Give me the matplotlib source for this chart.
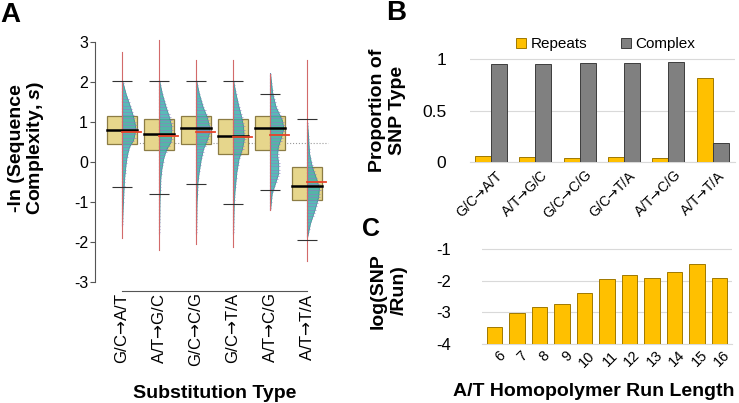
import numpy as np
import matplotlib
matplotlib.use("Agg")
import matplotlib.pyplot as plt
from matplotlib.patches import Rectangle, Patch

plt.rcParams['font.family'] = ['Liberation Sans', 'DejaVu Sans']
plt.rcParams['mathtext.fontset'] = 'custom'
plt.rcParams['mathtext.it'] = 'Liberation Sans:italic:bold'
plt.rcParams['mathtext.rm'] = 'Liberation Sans:bold'

# ---------------- data ----------------
subst = ['G/C→A/T', 'A/T→G/C', 'G/C→C/G', 'G/C→T/A', 'A/T→C/G', 'A/T→T/A']

# Panel A summary statistics
a_q1 = [0.45, 0.30, 0.45, 0.20, 0.30, -0.95]
a_q3 = [1.15, 1.07, 1.15, 1.07, 1.15, -0.13]
a_median = [0.80, 0.69, 0.86, 0.65, 0.86, -0.60]
a_mean = [0.75, 0.65, 0.75, 0.62, 0.68, -0.50]
a_whisk_lo = [-0.63, -0.79, -0.56, -1.04, -0.69, -1.94]
a_whisk_hi = [2.02, 2.02, 2.02, 2.02, 1.70, 1.07]
a_min = [-1.89, -2.20, -2.05, -2.12, -1.21, -2.48]
a_max = [2.76, 3.05, 2.54, 2.54, 2.20, 2.54]
a_ref = 0.48

# Panel A half-violin outlines (y levels, half widths)
viol_y = [
    [2.05, 1.7, 1.38, 1.13, 0.93, 0.8, 0.55, 0.38, 0.2, 0.05, -0.2, -0.45, -1.1, -1.6],
    [2.05, 1.7, 1.38, 1.13, 0.9, 0.7, 0.5, 0.33, 0.2, 0.08, -0.2, -0.42, -0.92, -1.8],
    [2.05, 1.7, 1.38, 1.13, 0.9, 0.73, 0.57, 0.33, 0.08, -0.25, -0.5, -1.0, -1.8],
    [2.05, 1.7, 1.38, 1.13, 0.9, 0.57, 0.33, 0.08, -0.25, -0.67, -1.0, -1.8],
    [2.22, 1.72, 1.38, 1.05, 0.85, 0.63, 0.38, 0.17, -0.03, -0.28, -0.53, -0.78, -1.2],
    [1.0, 0.6, 0.22, -0.12, -0.45, -0.65, -0.87, -1.2, -1.53, -1.88],
]
viol_w = [
    [0, 0.10, 0.22, 0.30, 0.35, 0.36, 0.30, 0.19, 0.14, 0.11, 0.08, 0.054, 0.02, 0],
    [0, 0.08, 0.18, 0.27, 0.33, 0.33, 0.31, 0.20, 0.15, 0.11, 0.06, 0.035, 0.015, 0],
    [0, 0.08, 0.18, 0.29, 0.35, 0.35, 0.30, 0.19, 0.13, 0.073, 0.04, 0.015, 0],
    [0, 0.07, 0.15, 0.22, 0.27, 0.29, 0.24, 0.15, 0.09, 0.046, 0.02, 0],
    [0, 0.06, 0.15, 0.32, 0.36, 0.30, 0.21, 0.19, 0.22, 0.22, 0.135, 0.046, 0],
    [0, 0.03, 0.054, 0.13, 0.26, 0.32, 0.30, 0.20, 0.08, 0],
]

# Panel B
b_repeats = [0.055, 0.045, 0.035, 0.045, 0.035, 0.82]
b_complex = [0.95, 0.95, 0.96, 0.96, 0.97, 0.18]

# Panel C
c_runlen = ['6', '7', '8', '9', '10', '11', '12', '13', '14', '15', '16']
c_lograte = [-3.45, -3.02, -2.82, -2.72, -2.40, -1.94, -1.82, -1.90, -1.71, -1.47, -1.90]

# ---------------- figure ----------------
W, H = 739, 403
fig = plt.figure(figsize=(W / 100, H / 100), dpi=100)


def px_axes(x0, y0, x1, y1):
    return fig.add_axes([x0 / W, 1 - y1 / H, (x1 - x0) / W, (y1 - y0) / H])


def arrow_label(s):
    # render the arrow glyph in DejaVu Sans (longer arrow, like the original)
    return s.replace('→', '$→$')


# ---------------- Panel A ----------------
axA = px_axes(95, 38, 333, 282)
axA.set_xlim(0.27, 6.7)
axA.set_ylim(-3, 3.1)

box_face = '#e6d68c'
box_edge = '#8c7c44'
viol_face = '#3cb0ac'
for i in range(len(subst)):
    x = i + 1
    axA.add_patch(Rectangle((x - 0.405, a_q1[i]), 0.81, a_q3[i] - a_q1[i],
                            facecolor=box_face, edgecolor=box_edge, lw=0.9, zorder=1))
    vy = np.array(viol_y[i])[::-1]
    vw = np.array(viol_w[i])[::-1]
    yy = np.linspace(vy.min(), vy.max(), 300)
    ww = np.interp(yy, vy, vw)
    axA.fill_betweenx(yy, x, x + ww, facecolor=viol_face, edgecolor='#2c8c88',
                      lw=0.6, alpha=0.85, zorder=2)
    ys = np.arange(vy.min() + 0.05, vy.max(), 0.08)
    ws = np.interp(ys, vy, vw)
    axA.hlines(ys, x, x + ws * 1.12 + 0.015, color='#8b7fc4', lw=0.55, alpha=0.8, zorder=3)
    axA.plot([x, x], [vy.min(), vy.max()], color='#3438a0', lw=0.8,
             linestyle=(0, (2, 1)), zorder=3)
    axA.plot([x, x], [a_min[i], a_max[i]], color='#d26a6a', lw=0.8, zorder=4)
    axA.hlines([a_whisk_lo[i], a_whisk_hi[i]], x - 0.27, x + 0.27, color='#333333',
               lw=0.8, zorder=5)
    axA.plot([x - 0.405, x + 0.405], [a_median[i]] * 2, color='black', lw=1.8, zorder=6)
    axA.plot([x, x + 0.52], [a_mean[i]] * 2, color='#e8432a', lw=1.3, zorder=7)

axA.plot([0.6, 6.57], [a_ref, a_ref], color='#9a9a9a', lw=0.8, linestyle=':', zorder=0.5)

for s in ['top', 'right']:
    axA.spines[s].set_visible(False)
axA.spines['left'].set_bounds(-3, 3)
axA.spines['left'].set_color('#555555')
axA.spines['left'].set_linewidth(0.8)
axA.spines['bottom'].set_bounds(1, 6)
axA.spines['bottom'].set_position(('outward', 6.5))
axA.spines['bottom'].set_color('#555555')
axA.spines['bottom'].set_linewidth(0.8)
axA.set_yticks([-3, -2, -1, 0, 1, 2, 3])
axA.set_yticklabels(['-3', '-2', '-1', '0', '1', '2', '3'])
axA.tick_params(axis='y', length=3.5, width=0.8, color='#555555', labelsize=11.5, pad=1.5)
axA.set_xticks(range(1, len(subst) + 1))
labsA = axA.set_xticklabels([arrow_label(s) for s in subst], rotation=90, fontsize=12)
for t in labsA:
    t.set_math_fontfamily('dejavusans')
axA.tick_params(axis='x', length=0, pad=1.5)

fig.text(17 / W, 1 - 148 / H, '-ln (Sequence', rotation=90, ha='center', va='center',
         fontsize=14, fontweight='bold')
fig.text(36 / W, 1 - 148 / H, r'Complexity, $\it{s}$)', rotation=90, ha='center',
         va='center', fontsize=14, fontweight='bold')
fig.text(215 / W, 1 - 393 / H, 'Substitution Type', ha='center', va='center',
         fontsize=14, fontweight='bold')
fig.text(0 / W, 1 - 15 / H, 'A', ha='left', va='center', fontsize=20, fontweight='bold')

# ---------------- Panel B ----------------
axB = px_axes(470, 54, 735, 162)
xb = np.arange(len(subst))
bw = 0.36
gold = '#ffc000'
grey = '#808080'
axB.bar(xb - bw / 2, b_repeats, bw, color=gold, edgecolor='#a07800', lw=0.7, zorder=3)
axB.bar(xb + bw / 2, b_complex, bw, color=grey, edgecolor='#3c3c3c', lw=0.7, zorder=3)
axB.set_xlim(-0.47, 5.5)
axB.set_ylim(0, 1.05)
axB.set_yticks([0, 0.5, 1])
axB.set_yticklabels(['0', '0.5', '1'])
axB.grid(axis='y', color='#d9d9d9', lw=0.8, zorder=0)
for s in ['top', 'right', 'left']:
    axB.spines[s].set_visible(False)
axB.spines['bottom'].set_color('#d9d9d9')
axB.tick_params(axis='y', length=0, labelsize=12.5, pad=17)
axB.set_xticks(xb + 0.1)
labsB = axB.set_xticklabels([arrow_label(s) for s in subst], rotation=45, ha='right',
                            rotation_mode='anchor', fontsize=10)
for t in labsB:
    t.set_math_fontfamily('dejavusans')
axB.tick_params(axis='x', length=0, pad=4)
handles = [Patch(facecolor=gold, edgecolor='#a07800', lw=0.7, label='Repeats'),
           Patch(facecolor=grey, edgecolor='#3c3c3c', lw=0.7, label='Complex')]
fig.legend(handles=handles, loc='center', bbox_to_anchor=(606 / W, 1 - 44 / H), ncol=2,
           frameon=False, fontsize=11, handlelength=0.65, handleheight=0.65,
           handletextpad=0.3, columnspacing=2.2, borderaxespad=0)
fig.text(377 / W, 1 - 110 / H, 'Proportion of', rotation=90, ha='center', va='center',
         fontsize=14, fontweight='bold')
fig.text(398 / W, 1 - 110 / H, 'SNP Type', rotation=90, ha='center', va='center',
         fontsize=14, fontweight='bold')
fig.text(386 / W, 1 - 13 / H, 'B', ha='left', va='center', fontsize=20, fontweight='bold')

# ---------------- Panel C ----------------
axC = px_axes(482, 246, 732, 344)
xc = np.arange(len(c_runlen))
base = -4
axC.bar(xc, np.array(c_lograte) - base, 0.7, bottom=base, color=gold, edgecolor='#a07800',
        lw=0.7, zorder=3)
axC.set_xlim(-0.55, 10.55)
axC.set_ylim(-4, -0.9)
axC.set_yticks([-4, -3, -2, -1])
axC.set_yticklabels(['-4', '-3', '-2', '-1'])
axC.grid(axis='y', color='#d9d9d9', lw=0.8, zorder=0)
for s in ['top', 'right', 'left']:
    axC.spines[s].set_visible(False)
axC.spines['bottom'].set_color('#d9d9d9')
axC.tick_params(axis='y', length=0, labelsize=12, pad=22)
axC.set_xticks(xc + 0.15)
axC.set_xticklabels(c_runlen, rotation=45, ha='right', rotation_mode='anchor', fontsize=10.5)
axC.tick_params(axis='x', length=0, pad=3)
fig.text(594 / W, 1 - 392 / H, 'A/T Homopolymer Run Length', ha='center', va='center',
         fontsize=14, fontweight='bold')
fig.text(378 / W, 1 - 291 / H, 'log(SNP', rotation=90, ha='center', va='center',
         fontsize=14, fontweight='bold')
fig.text(399 / W, 1 - 290 / H, '/Run)', rotation=90, ha='center', va='center',
         fontsize=14, fontweight='bold')
fig.text(362 / W, 1 - 229 / H, 'C', ha='left', va='center', fontsize=18, fontweight='bold')

fig.savefig('out.png', dpi=100)
